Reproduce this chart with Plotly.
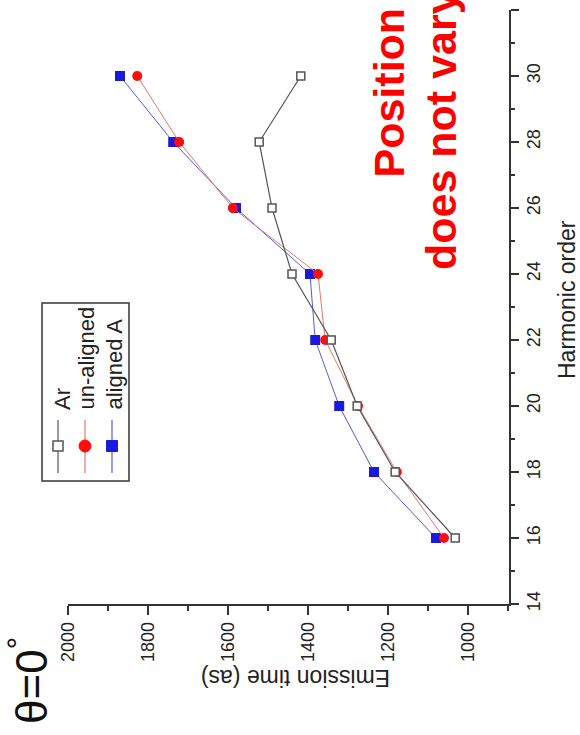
import plotly.graph_objects as go

# Harmonic orders and emission times (attoseconds)
harmonics = [16, 18, 20, 22, 24, 26, 28, 30]
ar_times = [1032, 1182, 1277, 1342, 1440, 1490, 1522, 1418]
unaligned_times = [1060, 1178, 1275, 1357, 1375, 1588, 1722, 1827]
aligned_times = [1080, 1235, 1322, 1382, 1395, 1580, 1737, 1870]

time_ticks = [2000, 1800, 1600, 1400, 1200, 1000]
order_ticks = [14, 16, 18, 20, 22, 24, 26, 28, 30, 32]

W, H = 580, 735
L, R, T, B = 68, 509, 10, 604   # plot-area edges in pixels


def px(x):
    return (x - L) / (R - L)


def py(y):
    return (B - y) / (B - T)


fig = go.Figure()

# Emission time on the (reversed) horizontal axis, harmonic order vertical
fig.add_trace(go.Scatter(
    x=aligned_times, y=harmonics, mode="lines+markers", name="aligned A",
    line=dict(color="#5a5ad6", width=1),
    marker=dict(symbol="square", size=10, color="#1a1adc"),
))
fig.add_trace(go.Scatter(
    x=unaligned_times, y=harmonics, mode="lines+markers", name="un-aligned",
    line=dict(color="#e07a6e", width=1),
    marker=dict(symbol="circle", size=10, color="#ff0d0d"),
))
fig.add_trace(go.Scatter(
    x=ar_times, y=harmonics, mode="lines+markers", name="Ar",
    line=dict(color="#555555", width=1.2),
    marker=dict(symbol="square", size=8, color="white",
                line=dict(color="#555555", width=1.5)),
))

axis_font = dict(family="Liberation Sans, Arial, sans-serif", size=18, color="#222")

fig.update_xaxes(
    range=[2000, 897.5], tickvals=time_ticks, tickangle=-90,
    showline=True, linecolor="#333", linewidth=1.5,
    ticks="outside", ticklen=9, tickwidth=1.5, tickcolor="#333",
    minor=dict(dtick=100, ticks="outside", ticklen=5, tickwidth=1.5, tickcolor="#333"),
    showgrid=False, zeroline=False, tickfont=axis_font,
)
fig.update_yaxes(
    range=[14, 32], tickvals=order_ticks, tickangle=-90, side="right",
    showline=True, linecolor="#333", linewidth=1.5,
    ticks="outside", ticklen=8, tickwidth=1.5, tickcolor="#333",
    minor=dict(dtick=1, ticks="outside", ticklen=4, tickwidth=1.5, tickcolor="#333"),
    showgrid=False, zeroline=False, tickfont=axis_font,
)

annotations = []
shapes = []
txt = "Liberation Sans, Arial, sans-serif"

# Axis titles
annotations.append(dict(x=px(567), y=py(300), text="Harmonic order", textangle=-90,
                        font=dict(family=txt, size=23, color="#222")))
annotations.append(dict(x=px(296), y=py(678), text="Emission time (as)", textangle=180,
                        font=dict(family=txt, size=23, color="#222")))

# Angle label
annotations.append(dict(x=px(28), y=py(681), text="θ=0<sup>°</sup>", textangle=-90,
                        font=dict(family=txt, size=44, color="#111")))

# Red remark
annotations.append(dict(x=px(388), y=py(180), text="Position of", textangle=-90,
                        yanchor="bottom",
                        font=dict(family=txt, size=43, color="#ff0000", weight="bold")))
annotations.append(dict(x=px(441), y=py(272), text="does not vary", textangle=-90,
                        yanchor="bottom",
                        font=dict(family=txt, size=43, color="#ff0000", weight="bold")))

# Legend box
shapes.append(dict(type="rect", x0=px(42), x1=px(129), y0=py(303), y1=py(481),
                   line=dict(color="#333", width=1.5), fillcolor="rgba(0,0,0,0)"))
legend_items = [
    ("Ar", 58, 63, "#555555", "square_open"),
    ("un-aligned", 85, 86, "#e07a6e", "circle"),
    ("aligned A", 112, 114, "#5a5ad6", "square"),
]
for label, lx, tx, lc, kind in legend_items:
    shapes.append(dict(type="line", x0=px(lx), x1=px(lx), y0=py(420), y1=py(473),
                       line=dict(color=lc, width=1.2)))
    if kind == "square_open":
        s = 5
        shapes.append(dict(type="rect", x0=px(lx - s), x1=px(lx + s),
                           y0=py(446 + s), y1=py(446 - s),
                           line=dict(color="#555555", width=1.5), fillcolor="white"))
    elif kind == "circle":
        s = 6
        shapes.append(dict(type="circle", x0=px(lx - s), x1=px(lx + s),
                           y0=py(446 + s), y1=py(446 - s),
                           line=dict(color="#ff0d0d", width=1), fillcolor="#ff0d0d"))
    else:
        s = 5.5
        shapes.append(dict(type="rect", x0=px(lx - s), x1=px(lx + s),
                           y0=py(446 + s), y1=py(446 - s),
                           line=dict(color="#1a1adc", width=1), fillcolor="#1a1adc"))
    annotations.append(dict(x=px(tx), y=py(412), text=label, textangle=-90,
                            yanchor="bottom",
                            font=dict(family=txt, size=22, color="#222")))

for a in annotations:
    a.update(xref="paper", yref="paper", showarrow=False)
    a.setdefault("xanchor", "center")
    a.setdefault("yanchor", "middle")
for s in shapes:
    s.update(xref="paper", yref="paper")

fig.update_layout(
    width=W, height=H,
    margin=dict(l=L, r=W - R, t=T, b=H - B),
    paper_bgcolor="white", plot_bgcolor="white",
    showlegend=False,
    annotations=annotations, shapes=shapes,
)

fig.write_html("out.html")
